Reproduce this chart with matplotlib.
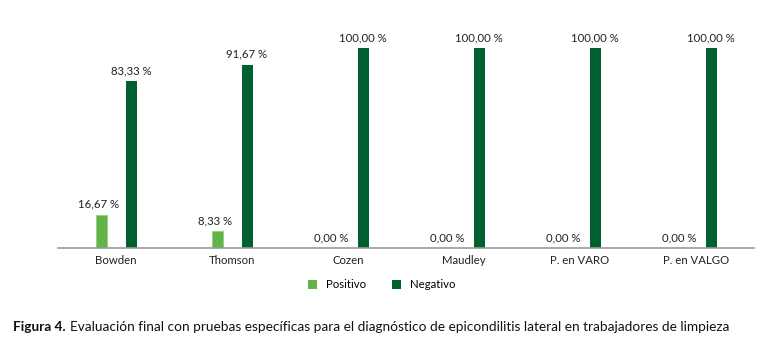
import matplotlib
matplotlib.use("Agg")
import matplotlib.pyplot as plt
import numpy as np

categories = ["Bowden", "Thomson", "Cozen", "Maudley", "P. en VARO", "P. en VALGO"]
positivo = [16.67, 8.33, 0.0, 0.0, 0.0, 0.0]
negativo = [83.33, 91.67, 100.0, 100.0, 100.0, 100.0]

plt.rcParams['font.family'] = ['Lato', 'DejaVu Sans']

c_pos = "#62B446"
c_neg = "#006030"

fig = plt.figure(figsize=(7.65, 3.54), dpi=100)
ax = fig.add_axes([58/765, (354-248)/354, 696/765, 220/354])

x = np.arange(len(categories))
off = 15/116
w = 11/116
ax.bar(x - off, positivo, width=w, color=c_pos, edgecolor="#8fd07a", linewidth=0.6)
ax.bar(x + off, negativo, width=w, color=c_neg)

def fmt(v):
    return f"{v:.2f}".replace(".", ",") + " %"

fs = 8.2
for xi, v in zip(x, positivo):
    ax.text(xi - off - 2/116, v + 2.5, fmt(v), ha="center", va="bottom", fontsize=fs, color="#222222")
for xi, v in zip(x, negativo):
    ax.text(xi + off, v + 2.5, fmt(v), ha="center", va="bottom", fontsize=fs, color="#222222")

ax.set_xlim(-0.5, len(categories) - 0.5)
ax.set_ylim(0, 110)
ax.set_xticks(x)
ax.set_xticklabels(categories, fontsize=fs, color="#222222")
ax.tick_params(axis="x", length=0, pad=5)
ax.set_yticks([])
for s in ["top", "right", "left"]:
    ax.spines[s].set_visible(False)
ax.spines["bottom"].set_color("#999999")
ax.spines["bottom"].set_linewidth(1.2)

from matplotlib.patches import Patch
handles = [Patch(facecolor=c_pos, label="Positivo"), Patch(facecolor=c_neg, label="Negativo")]
fig.legend(handles=handles, loc="center", bbox_to_anchor=(382/765, 1 - 285/354), ncol=2,
           frameon=False, fontsize=fs, handlelength=0.75, handleheight=0.75, columnspacing=2.3,
           handletextpad=0.8)

t1 = fig.text(13/765, 1 - 327/354, "Figura 4.", fontsize=9.8, fontweight="bold", va="center", ha="left", color="#111111")
fig.canvas.draw()
bb = t1.get_window_extent()
fig.text((bb.x1 + 4)/765, 1 - 327/354,
         "Evaluación final con pruebas específicas para el diagnóstico de epicondilitis lateral en trabajadores de limpieza",
         fontsize=9.8, va="center", ha="left", color="#111111")

fig.savefig("out.png", dpi=100)
